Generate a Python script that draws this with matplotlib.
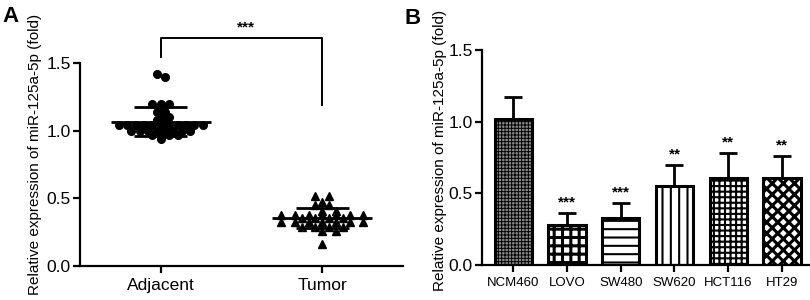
import matplotlib
matplotlib.use('Agg')
import matplotlib.pyplot as plt
import numpy as np

plt.rcParams['font.family'] = ['Liberation Sans', 'DejaVu Sans']

# panel A: scatter of single samples
groups = ['Adjacent', 'Tumor']
adjacent = [1.42, 1.40, 1.20, 1.20, 1.20, 1.14, 1.14, 1.10, 1.10, 1.08, 1.08,
            1.04, 1.04, 1.04, 1.04, 1.04, 1.04, 1.04, 1.04, 1.04, 1.04, 1.04,
            1.00, 1.00, 1.00, 1.00, 1.00, 1.00, 1.00, 1.00,
            0.97, 0.97, 0.97, 0.97, 0.94]
tumor = [0.52, 0.52, 0.47, 0.45, 0.45, 0.41, 0.41,
         0.38, 0.38, 0.38, 0.38, 0.38, 0.38, 0.38,
         0.355, 0.355, 0.355, 0.355,
         0.325, 0.325, 0.325, 0.325, 0.325, 0.325, 0.325,
         0.29, 0.29, 0.29, 0.29, 0.26, 0.26, 0.16]
sig_a = '***'

# panel B: cell lines
cells = ['NCM460', 'LOVO', 'SW480', 'SW620', 'HCT116', 'HT29']
means = [1.02, 0.28, 0.33, 0.55, 0.61, 0.61]
sds = [0.15, 0.08, 0.10, 0.15, 0.17, 0.15]
stars = ['', '***', '***', '**', '**', '**']
hatches = ['+++++', '++', '--', '||', '+++', 'xxx']
hatch_lw = [0.7, 2.2, 1.5, 1.5, 1.5, 2.2]
faces = ['#8a8a8a', 'white', 'white', 'white', 'white', 'white']

fig = plt.figure(figsize=(8.1, 3.0), dpi=100)
axA = fig.add_axes([80 / 810, 34 / 300, 323 / 810, 203 / 300])
axB = fig.add_axes([482 / 810, 35 / 300, 328 / 810, 215 / 300])


def style_axis(ax):
    for s in ['top', 'right']:
        ax.spines[s].set_visible(False)
    for s in ['left', 'bottom']:
        ax.spines[s].set_linewidth(1.6)
    ax.tick_params(width=1.6, length=5, color='black')
    ax.tick_params(axis='y', pad=1.5)
    ax.set_ylim(0, 1.5)
    ax.set_yticks([0.0, 0.5, 1.0, 1.5])
    ax.set_yticklabels(['0.0', '0.5', '1.0', '1.5'], fontsize=12.5)


# ---- panel A ----
style_axis(axA)
steps = [0.052, 0.085]
for i, (vals, mk) in enumerate(zip([adjacent, tumor], ['o', '^'])):
    step = steps[i]
    vals = np.array(vals)
    xs = np.zeros(len(vals))
    rows = np.round(vals / 0.03)
    prev_n = None
    shift = 0.0
    for r in np.unique(rows)[::-1]:
        idx = np.where(rows == r)[0]
        n = len(idx)
        # stagger neighbouring rows with the same count parity
        if prev_n is not None and (n % 2) == (prev_n % 2):
            shift = step / 2 if shift == 0 else 0.0
        else:
            shift = 0.0
        xs[idx] = i + (np.arange(n) - (n - 1) / 2.0) * step + shift
        prev_n = n
    axA.plot(xs, vals, linestyle='none', marker=mk, color='black', markersize=5.5)
    m = vals.mean()
    sd = vals.std(ddof=1)
    axA.hlines(m, i - 0.31, i + 0.31, color='black', linewidth=2)
    axA.hlines([m - sd, m + sd], i - 0.165, i + 0.165, color='black', linewidth=2)
    axA.vlines(i, m - sd, m + sd, color='black', linewidth=2)

axA.set_xlim(-0.5, 1.5)
axA.set_xticks([0, 1])
axA.set_xticklabels(groups, fontsize=12.5)

# significance bracket
axA.plot([0, 0, 1, 1], [1.545, 1.685, 1.685, 1.19], color='black',
         linewidth=1.4, clip_on=False)
axA.text(0.53, 1.71, sig_a, ha='center', va='bottom', fontsize=11, fontweight='bold')
axA.set_ylabel('Relative expression of miR-125a-5p (fold)', fontsize=11, va='center')
axA.yaxis.set_label_coords(-0.139, 0.55)

# ---- panel B ----
style_axis(axB)
x = np.arange(len(cells))
axB.errorbar(x, means, yerr=[np.zeros(len(sds)), sds], fmt='none',
             ecolor='black', elinewidth=2, capsize=6.5, capthick=2, zorder=1)
for i in range(len(cells)):
    with plt.rc_context({'hatch.linewidth': hatch_lw[i]}):
        b = axB.bar(x[i], means[i], width=0.69, color=faces[i], edgecolor='black',
                    linewidth=0, hatch=hatches[i], zorder=2)
        if hasattr(b[0], 'set_hatch_linewidth'):
            b[0].set_hatch_linewidth(hatch_lw[i])
    axB.bar(x[i], means[i], width=0.69, fill=False, edgecolor='black',
            linewidth=2.2, zorder=3)
    if stars[i]:
        axB.text(x[i], means[i] + sds[i] + 0.025, stars[i], ha='center',
                 va='bottom', fontsize=11, fontweight='bold')

axB.set_xlim(-0.58, 5.52)
axB.set_xticks(x)
axB.set_xticklabels(cells, fontsize=9.5)
axB.set_ylabel('Relative expression of miR-125a-5p (fold)', fontsize=11, va='center')
axB.yaxis.set_label_coords(-0.128, 0.535)

fig.text(2 / 810, 1 - 22 / 300, 'A', fontsize=16, fontweight='bold')
fig.text(404 / 810, 1 - 24 / 300, 'B', fontsize=16, fontweight='bold')

plt.savefig('out.png', dpi=100)
